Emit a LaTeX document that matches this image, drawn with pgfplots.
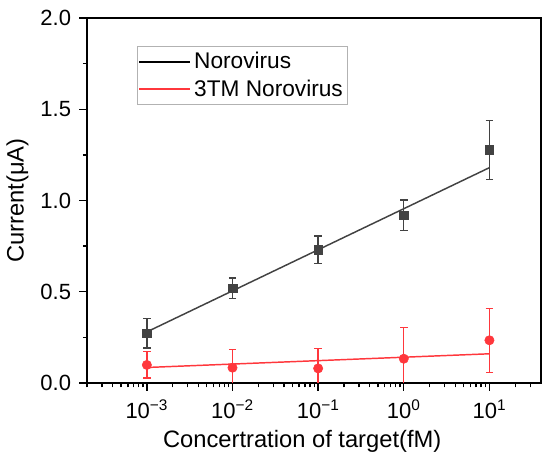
\documentclass[border=0pt]{standalone}
\usepackage{pgfplots}
\pgfplotsset{compat=1.18}
\usepackage{fontspec}
\setmainfont{Liberation Sans}
\definecolor{dg}{RGB}{66,66,66}
\definecolor{rd}{RGB}{255,55,60}
\begin{document}
\begin{tikzpicture}
\useasboundingbox (0,0) rectangle (412.5pt,347.25pt);
\begin{axis}[
  at={(65.25pt,60pt)}, anchor=south west,
  scale only axis, width=340.5pt, height=273.75pt,
  xmode=log, log basis x=10,
  xmin=2e-4, xmax=40, ymin=0, ymax=2,
  xtick={1e-3,1e-2,1e-1,1,10},
  xticklabels={10\textsuperscript{−3},10\textsuperscript{−2},10\textsuperscript{−1},10\textsuperscript{0},10\textsuperscript{1}},
  minor xtick={2e-4,3e-4,4e-4,5e-4,6e-4,7e-4,8e-4,9e-4,
               2e-3,3e-3,4e-3,5e-3,6e-3,7e-3,8e-3,9e-3,
               2e-2,3e-2,4e-2,5e-2,6e-2,7e-2,8e-2,9e-2,
               0.2,0.3,0.4,0.5,0.6,0.7,0.8,0.9,
               2,3,4,5,6,7,8,9,20,30},
  ytick={0,0.5,1,1.5,2},
  minor ytick={0.25,0.75,1.25,1.75},
  /pgf/number format/assume math mode=true,
  tick label style={font=\fontsize{16.5pt}{19pt}\selectfont},
  xticklabel style={yshift=-3pt},
  yticklabel style={xshift=-2.5pt, /pgf/number format/.cd, fixed, fixed zerofill, precision=1},
  tick align=outside, tick pos=left,
  major tick length=6pt, minor tick length=3.2pt,
  every tick/.style={black, line width=1pt},
  axis line style={line width=1.3pt},
  xlabel={Concertration of target(fM)},
  ylabel={Current(μA)},
  label style={font=\fontsize{17.8pt}{21pt}\selectfont},
  xlabel style={at={(axis description cs:0.474,-0.159)}, anchor=center},
  ylabel style={at={(axis description cs:-0.153,0.5)}, anchor=center},
  legend style={at={(0.11,0.923)}, anchor=north west, draw=gray!60, line width=0.7pt,
    font=\fontsize{17pt}{20pt}\selectfont, inner xsep=1pt, inner ysep=2pt,
    nodes={inner sep=2.5pt}, row sep=1.5pt},
  legend cell align=left,
  legend image code/.code={\draw[#1] (0pt,0pt) -- (38pt,0pt);},
]
\addlegendimage{black, line width=1.1pt}
\addlegendentry{Norovirus}
\addlegendimage{rd, line width=1.1pt}
\addlegendentry{3TM Norovirus}

% fit lines
\addplot[forget plot, dg, line width=1.1pt] coordinates {(1e-3,0.28) (10,1.18)};
\addplot[forget plot, rd, line width=1.1pt] coordinates {(1e-3,0.085) (10,0.16)};

% data with error bars
\addplot[forget plot, only marks, mark=square*, mark size=3.2pt, dg,
  error bars/.cd, y dir=both, y explicit,
  error bar style={dg, line width=1pt},
  error mark options={rotate=90, mark size=2.8pt, dg, line width=1pt}]
  coordinates {
  (1e-3,0.272) +- (0,0.080)
  (1e-2,0.519) +- (0,0.057)
  (1e-1,0.729) +- (0,0.076)
  (1,0.920) +- (0,0.083)
  (10,1.277) +- (0,0.162)
  };
\addplot[forget plot, only marks, mark=*, mark size=3.5pt, rd,
  error bars/.cd, y dir=both, y explicit,
  error bar style={rd, line width=1pt},
  error mark options={rotate=90, mark size=2.8pt, rd, line width=1pt}]
  coordinates {
  (1e-3,0.099) +- (0,0.072)
  (1e-2,0.084) +- (0,0.100)
  (1e-1,0.080) +- (0,0.110)
  (1,0.133) +- (0,0.170)
  (10,0.234) +- (0,0.175)
  };
\end{axis}
\end{tikzpicture}
\end{document}
